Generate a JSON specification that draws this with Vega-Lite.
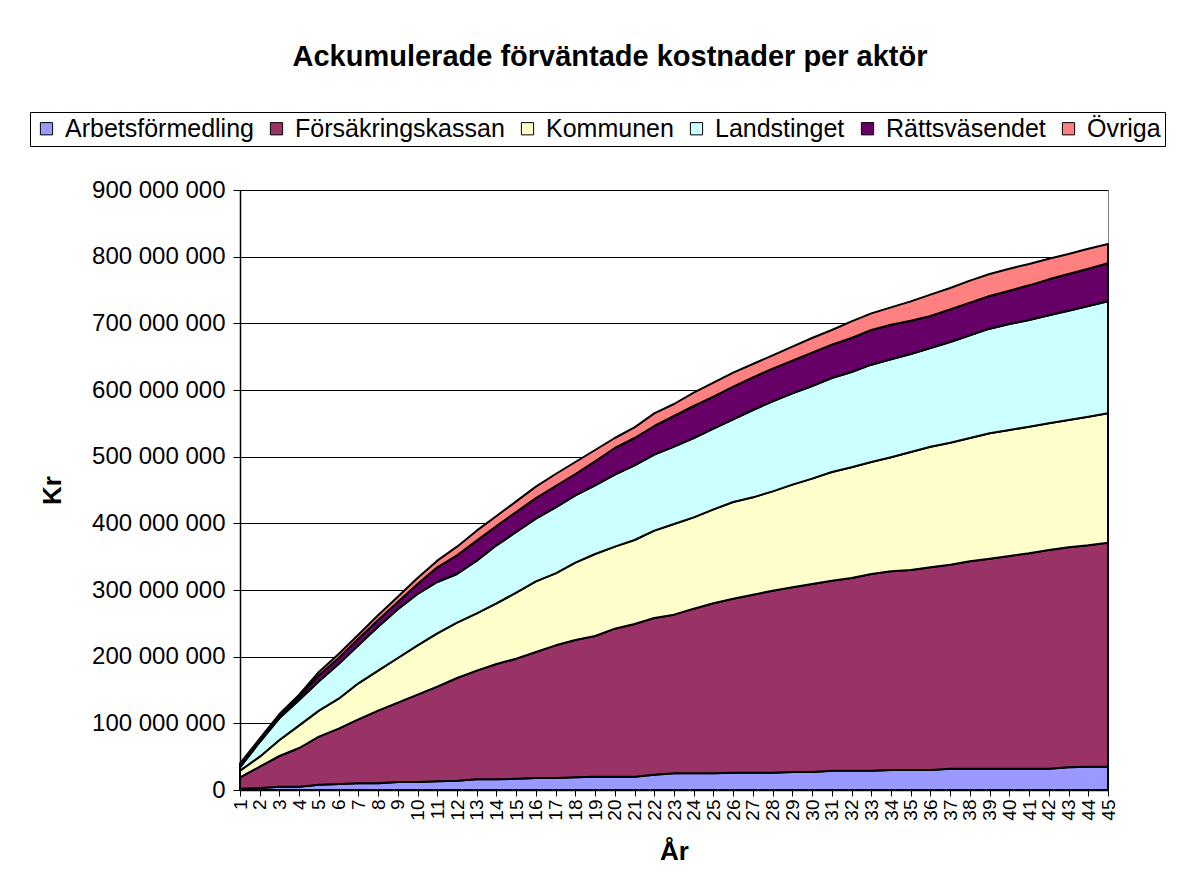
{
  "$schema": "https://vega.github.io/schema/vega-lite/v6.json",
  "width": 868,
  "height": 600,
  "autosize": {"type": "none"},
  "padding": {"left": 240, "top": 190, "right": 76, "bottom": 95},
  "background": "white",
  "title": {
    "text": "Ackumulerade förväntade kostnader per aktör",
    "font": "Liberation Sans",
    "fontSize": 29,
    "fontWeight": "bold",
    "color": "black",
    "anchor": "middle",
    "frame": "group",
    "dx": -64,
    "offset": 40
  },
  "data": {
    "values": [
      {"year":1,"aktor":"Arbetsförmedling","kr":2000000},{"year":1,"aktor":"Försäkringskassan","kr":17000000},{"year":1,"aktor":"Kommunen","kr":10000000},{"year":1,"aktor":"Landstinget","kr":5000000},{"year":1,"aktor":"Rättsväsendet","kr":3000000},{"year":1,"aktor":"Övriga","kr":3000000},
      {"year":2,"aktor":"Arbetsförmedling","kr":3000000},{"year":2,"aktor":"Försäkringskassan","kr":32000000},{"year":2,"aktor":"Kommunen","kr":15000000},{"year":2,"aktor":"Landstinget","kr":22000000},{"year":2,"aktor":"Rättsväsendet","kr":2000000},{"year":2,"aktor":"Övriga","kr":3000000},
      {"year":3,"aktor":"Arbetsförmedling","kr":5000000},{"year":3,"aktor":"Försäkringskassan","kr":46000000},{"year":3,"aktor":"Kommunen","kr":24000000},{"year":3,"aktor":"Landstinget","kr":33000000},{"year":3,"aktor":"Rättsväsendet","kr":3000000},{"year":3,"aktor":"Övriga","kr":3000000},
      {"year":4,"aktor":"Arbetsförmedling","kr":5000000},{"year":4,"aktor":"Försäkringskassan","kr":58000000},{"year":4,"aktor":"Kommunen","kr":34000000},{"year":4,"aktor":"Landstinget","kr":38000000},{"year":4,"aktor":"Rättsväsendet","kr":5000000},{"year":4,"aktor":"Övriga","kr":3000000},
      {"year":5,"aktor":"Arbetsförmedling","kr":8000000},{"year":5,"aktor":"Försäkringskassan","kr":72000000},{"year":5,"aktor":"Kommunen","kr":39000000},{"year":5,"aktor":"Landstinget","kr":44000000},{"year":5,"aktor":"Rättsväsendet","kr":9000000},{"year":5,"aktor":"Övriga","kr":5000000},
      {"year":6,"aktor":"Arbetsförmedling","kr":9000000},{"year":6,"aktor":"Försäkringskassan","kr":83000000},{"year":6,"aktor":"Kommunen","kr":45000000},{"year":6,"aktor":"Landstinget","kr":52000000},{"year":6,"aktor":"Rättsväsendet","kr":9000000},{"year":6,"aktor":"Övriga","kr":6000000},
      {"year":7,"aktor":"Arbetsförmedling","kr":10000000},{"year":7,"aktor":"Försäkringskassan","kr":96000000},{"year":7,"aktor":"Kommunen","kr":54000000},{"year":7,"aktor":"Landstinget","kr":57000000},{"year":7,"aktor":"Rättsväsendet","kr":10000000},{"year":7,"aktor":"Övriga","kr":6000000},
      {"year":8,"aktor":"Arbetsförmedling","kr":10000000},{"year":8,"aktor":"Försäkringskassan","kr":109000000},{"year":8,"aktor":"Kommunen","kr":60000000},{"year":8,"aktor":"Landstinget","kr":66000000},{"year":8,"aktor":"Rättsväsendet","kr":10000000},{"year":8,"aktor":"Övriga","kr":7000000},
      {"year":9,"aktor":"Arbetsförmedling","kr":12000000},{"year":9,"aktor":"Försäkringskassan","kr":119000000},{"year":9,"aktor":"Kommunen","kr":67000000},{"year":9,"aktor":"Landstinget","kr":73000000},{"year":9,"aktor":"Rättsväsendet","kr":11000000},{"year":9,"aktor":"Övriga","kr":8000000},
      {"year":10,"aktor":"Arbetsförmedling","kr":12000000},{"year":10,"aktor":"Försäkringskassan","kr":131000000},{"year":10,"aktor":"Kommunen","kr":74000000},{"year":10,"aktor":"Landstinget","kr":77000000},{"year":10,"aktor":"Rättsväsendet","kr":15000000},{"year":10,"aktor":"Övriga","kr":9000000},
      {"year":11,"aktor":"Arbetsförmedling","kr":13000000},{"year":11,"aktor":"Försäkringskassan","kr":142000000},{"year":11,"aktor":"Kommunen","kr":80000000},{"year":11,"aktor":"Landstinget","kr":77000000},{"year":11,"aktor":"Rättsväsendet","kr":22000000},{"year":11,"aktor":"Övriga","kr":10000000},
      {"year":12,"aktor":"Arbetsförmedling","kr":14000000},{"year":12,"aktor":"Försäkringskassan","kr":154000000},{"year":12,"aktor":"Kommunen","kr":83000000},{"year":12,"aktor":"Landstinget","kr":73000000},{"year":12,"aktor":"Rättsväsendet","kr":28000000},{"year":12,"aktor":"Övriga","kr":13000000},
      {"year":13,"aktor":"Arbetsförmedling","kr":16000000},{"year":13,"aktor":"Försäkringskassan","kr":163000000},{"year":13,"aktor":"Kommunen","kr":86000000},{"year":13,"aktor":"Landstinget","kr":79000000},{"year":13,"aktor":"Rättsväsendet","kr":30000000},{"year":13,"aktor":"Övriga","kr":15000000},
      {"year":14,"aktor":"Arbetsförmedling","kr":16000000},{"year":14,"aktor":"Försäkringskassan","kr":173000000},{"year":14,"aktor":"Kommunen","kr":91000000},{"year":14,"aktor":"Landstinget","kr":87000000},{"year":14,"aktor":"Rättsväsendet","kr":29000000},{"year":14,"aktor":"Övriga","kr":15000000},
      {"year":15,"aktor":"Arbetsförmedling","kr":17000000},{"year":15,"aktor":"Försäkringskassan","kr":180000000},{"year":15,"aktor":"Kommunen","kr":99000000},{"year":15,"aktor":"Landstinget","kr":91000000},{"year":15,"aktor":"Rättsväsendet","kr":30000000},{"year":15,"aktor":"Övriga","kr":16000000},
      {"year":16,"aktor":"Arbetsförmedling","kr":18000000},{"year":16,"aktor":"Försäkringskassan","kr":189000000},{"year":16,"aktor":"Kommunen","kr":106000000},{"year":16,"aktor":"Landstinget","kr":94000000},{"year":16,"aktor":"Rättsväsendet","kr":31000000},{"year":16,"aktor":"Övriga","kr":17000000},
      {"year":17,"aktor":"Arbetsförmedling","kr":18000000},{"year":17,"aktor":"Försäkringskassan","kr":199000000},{"year":17,"aktor":"Kommunen","kr":108000000},{"year":17,"aktor":"Landstinget","kr":99000000},{"year":17,"aktor":"Rättsväsendet","kr":32000000},{"year":17,"aktor":"Övriga","kr":18000000},
      {"year":18,"aktor":"Arbetsförmedling","kr":19000000},{"year":18,"aktor":"Försäkringskassan","kr":206000000},{"year":18,"aktor":"Kommunen","kr":116000000},{"year":18,"aktor":"Landstinget","kr":101000000},{"year":18,"aktor":"Rättsväsendet","kr":32000000},{"year":18,"aktor":"Övriga","kr":18000000},
      {"year":19,"aktor":"Arbetsförmedling","kr":20000000},{"year":19,"aktor":"Försäkringskassan","kr":211000000},{"year":19,"aktor":"Kommunen","kr":123000000},{"year":19,"aktor":"Landstinget","kr":103000000},{"year":19,"aktor":"Rättsväsendet","kr":36000000},{"year":19,"aktor":"Övriga","kr":17000000},
      {"year":20,"aktor":"Arbetsförmedling","kr":20000000},{"year":20,"aktor":"Försäkringskassan","kr":222000000},{"year":20,"aktor":"Kommunen","kr":123000000},{"year":20,"aktor":"Landstinget","kr":108000000},{"year":20,"aktor":"Rättsväsendet","kr":40000000},{"year":20,"aktor":"Övriga","kr":15000000},
      {"year":21,"aktor":"Arbetsförmedling","kr":20000000},{"year":21,"aktor":"Försäkringskassan","kr":229000000},{"year":21,"aktor":"Kommunen","kr":126000000},{"year":21,"aktor":"Landstinget","kr":112000000},{"year":21,"aktor":"Rättsväsendet","kr":41000000},{"year":21,"aktor":"Övriga","kr":16000000},
      {"year":22,"aktor":"Arbetsförmedling","kr":23000000},{"year":22,"aktor":"Försäkringskassan","kr":235000000},{"year":22,"aktor":"Kommunen","kr":131000000},{"year":22,"aktor":"Landstinget","kr":114000000},{"year":22,"aktor":"Rättsväsendet","kr":43000000},{"year":22,"aktor":"Övriga","kr":19000000},
      {"year":23,"aktor":"Arbetsförmedling","kr":25000000},{"year":23,"aktor":"Försäkringskassan","kr":238000000},{"year":23,"aktor":"Kommunen","kr":136000000},{"year":23,"aktor":"Landstinget","kr":116000000},{"year":23,"aktor":"Rättsväsendet","kr":46000000},{"year":23,"aktor":"Övriga","kr":18000000},
      {"year":24,"aktor":"Arbetsförmedling","kr":25000000},{"year":24,"aktor":"Försäkringskassan","kr":247000000},{"year":24,"aktor":"Kommunen","kr":137000000},{"year":24,"aktor":"Landstinget","kr":119000000},{"year":24,"aktor":"Rättsväsendet","kr":48000000},{"year":24,"aktor":"Övriga","kr":20000000},
      {"year":25,"aktor":"Arbetsförmedling","kr":25000000},{"year":25,"aktor":"Försäkringskassan","kr":255000000},{"year":25,"aktor":"Kommunen","kr":141000000},{"year":25,"aktor":"Landstinget","kr":121000000},{"year":25,"aktor":"Rättsväsendet","kr":48000000},{"year":25,"aktor":"Övriga","kr":21000000},
      {"year":26,"aktor":"Arbetsförmedling","kr":26000000},{"year":26,"aktor":"Försäkringskassan","kr":261000000},{"year":26,"aktor":"Kommunen","kr":145000000},{"year":26,"aktor":"Landstinget","kr":124000000},{"year":26,"aktor":"Rättsväsendet","kr":49000000},{"year":26,"aktor":"Övriga","kr":21000000},
      {"year":27,"aktor":"Arbetsförmedling","kr":26000000},{"year":27,"aktor":"Försäkringskassan","kr":267000000},{"year":27,"aktor":"Kommunen","kr":146000000},{"year":27,"aktor":"Landstinget","kr":131000000},{"year":27,"aktor":"Rättsväsendet","kr":49000000},{"year":27,"aktor":"Övriga","kr":20000000},
      {"year":28,"aktor":"Arbetsförmedling","kr":26000000},{"year":28,"aktor":"Försäkringskassan","kr":273000000},{"year":28,"aktor":"Kommunen","kr":149000000},{"year":28,"aktor":"Landstinget","kr":135000000},{"year":28,"aktor":"Rättsväsendet","kr":49000000},{"year":28,"aktor":"Övriga","kr":20000000},
      {"year":29,"aktor":"Arbetsförmedling","kr":27000000},{"year":29,"aktor":"Försäkringskassan","kr":277000000},{"year":29,"aktor":"Kommunen","kr":154000000},{"year":29,"aktor":"Landstinget","kr":137000000},{"year":29,"aktor":"Rättsväsendet","kr":49000000},{"year":29,"aktor":"Övriga","kr":21000000},
      {"year":30,"aktor":"Arbetsförmedling","kr":27000000},{"year":30,"aktor":"Försäkringskassan","kr":282000000},{"year":30,"aktor":"Kommunen","kr":158000000},{"year":30,"aktor":"Landstinget","kr":139000000},{"year":30,"aktor":"Rättsväsendet","kr":50000000},{"year":30,"aktor":"Övriga","kr":22000000},
      {"year":31,"aktor":"Arbetsförmedling","kr":29000000},{"year":31,"aktor":"Försäkringskassan","kr":285000000},{"year":31,"aktor":"Kommunen","kr":163000000},{"year":31,"aktor":"Landstinget","kr":141000000},{"year":31,"aktor":"Rättsväsendet","kr":50000000},{"year":31,"aktor":"Övriga","kr":22000000},
      {"year":32,"aktor":"Arbetsförmedling","kr":29000000},{"year":32,"aktor":"Försäkringskassan","kr":289000000},{"year":32,"aktor":"Kommunen","kr":166000000},{"year":32,"aktor":"Landstinget","kr":143000000},{"year":32,"aktor":"Rättsväsendet","kr":51000000},{"year":32,"aktor":"Övriga","kr":25000000},
      {"year":33,"aktor":"Arbetsförmedling","kr":29000000},{"year":33,"aktor":"Försäkringskassan","kr":295000000},{"year":33,"aktor":"Kommunen","kr":168000000},{"year":33,"aktor":"Landstinget","kr":146000000},{"year":33,"aktor":"Rättsväsendet","kr":52000000},{"year":33,"aktor":"Övriga","kr":25000000},
      {"year":34,"aktor":"Arbetsförmedling","kr":30000000},{"year":34,"aktor":"Försäkringskassan","kr":298000000},{"year":34,"aktor":"Kommunen","kr":171000000},{"year":34,"aktor":"Landstinget","kr":147000000},{"year":34,"aktor":"Rättsväsendet","kr":52000000},{"year":34,"aktor":"Övriga","kr":26000000},
      {"year":35,"aktor":"Arbetsförmedling","kr":30000000},{"year":35,"aktor":"Försäkringskassan","kr":300000000},{"year":35,"aktor":"Kommunen","kr":177000000},{"year":35,"aktor":"Landstinget","kr":147000000},{"year":35,"aktor":"Rättsväsendet","kr":50000000},{"year":35,"aktor":"Övriga","kr":29000000},
      {"year":36,"aktor":"Arbetsförmedling","kr":30000000},{"year":36,"aktor":"Försäkringskassan","kr":304000000},{"year":36,"aktor":"Kommunen","kr":181000000},{"year":36,"aktor":"Landstinget","kr":148000000},{"year":36,"aktor":"Rättsväsendet","kr":48000000},{"year":36,"aktor":"Övriga","kr":32000000},
      {"year":37,"aktor":"Arbetsförmedling","kr":32000000},{"year":37,"aktor":"Försäkringskassan","kr":306000000},{"year":37,"aktor":"Kommunen","kr":183000000},{"year":37,"aktor":"Landstinget","kr":151000000},{"year":37,"aktor":"Rättsväsendet","kr":49000000},{"year":37,"aktor":"Övriga","kr":32000000},
      {"year":38,"aktor":"Arbetsförmedling","kr":32000000},{"year":38,"aktor":"Försäkringskassan","kr":311000000},{"year":38,"aktor":"Kommunen","kr":185000000},{"year":38,"aktor":"Landstinget","kr":154000000},{"year":38,"aktor":"Rättsväsendet","kr":49000000},{"year":38,"aktor":"Övriga","kr":33000000},
      {"year":39,"aktor":"Arbetsförmedling","kr":32000000},{"year":39,"aktor":"Försäkringskassan","kr":315000000},{"year":39,"aktor":"Kommunen","kr":188000000},{"year":39,"aktor":"Landstinget","kr":157000000},{"year":39,"aktor":"Rättsväsendet","kr":49000000},{"year":39,"aktor":"Övriga","kr":33000000},
      {"year":40,"aktor":"Arbetsförmedling","kr":32000000},{"year":40,"aktor":"Försäkringskassan","kr":319000000},{"year":40,"aktor":"Kommunen","kr":189000000},{"year":40,"aktor":"Landstinget","kr":159000000},{"year":40,"aktor":"Rättsväsendet","kr":50000000},{"year":40,"aktor":"Övriga","kr":33000000},
      {"year":41,"aktor":"Arbetsförmedling","kr":32000000},{"year":41,"aktor":"Försäkringskassan","kr":323000000},{"year":41,"aktor":"Kommunen","kr":190000000},{"year":41,"aktor":"Landstinget","kr":160000000},{"year":41,"aktor":"Rättsväsendet","kr":52000000},{"year":41,"aktor":"Övriga","kr":32000000},
      {"year":42,"aktor":"Arbetsförmedling","kr":32000000},{"year":42,"aktor":"Försäkringskassan","kr":328000000},{"year":42,"aktor":"Kommunen","kr":190000000},{"year":42,"aktor":"Landstinget","kr":162000000},{"year":42,"aktor":"Rättsväsendet","kr":54000000},{"year":42,"aktor":"Övriga","kr":31000000},
      {"year":43,"aktor":"Arbetsförmedling","kr":34000000},{"year":43,"aktor":"Försäkringskassan","kr":330000000},{"year":43,"aktor":"Kommunen","kr":191000000},{"year":43,"aktor":"Landstinget","kr":164000000},{"year":43,"aktor":"Rättsväsendet","kr":55000000},{"year":43,"aktor":"Övriga","kr":30000000},
      {"year":44,"aktor":"Arbetsförmedling","kr":35000000},{"year":44,"aktor":"Försäkringskassan","kr":332000000},{"year":44,"aktor":"Kommunen","kr":193000000},{"year":44,"aktor":"Landstinget","kr":166000000},{"year":44,"aktor":"Rättsväsendet","kr":56000000},{"year":44,"aktor":"Övriga","kr":30000000},
      {"year":45,"aktor":"Arbetsförmedling","kr":35000000},{"year":45,"aktor":"Försäkringskassan","kr":336000000},{"year":45,"aktor":"Kommunen","kr":194000000},{"year":45,"aktor":"Landstinget","kr":168000000},{"year":45,"aktor":"Rättsväsendet","kr":57000000},{"year":45,"aktor":"Övriga","kr":29000000}
    ]
  },
  "mark": {"type": "area", "stroke": "black", "strokeWidth": 2, "strokeJoin": "round", "interpolate": "linear"},
  "encoding": {
    "x": {
      "field": "year",
      "type": "ordinal",
      "scale": {"type": "point", "padding": 0},
      "axis": {
        "title": "År",
        "titleFontSize": 26,
        "titleFontWeight": "bold",
        "titleColor": "black",
        "titlePadding": 18,
        "labelAngle": -90,
        "labelFontSize": 19,
        "labelColor": "black",
        "labelPadding": 3,
        "tickSize": 6,
        "tickColor": "black",
        "domainColor": "black",
        "domainWidth": 1.5,
        "grid": false
      }
    },
    "y": {
      "field": "kr",
      "type": "quantitative",
      "stack": "zero",
      "scale": {"domain": [0, 900000000], "nice": false},
      "axis": {
        "title": "Kr",
        "titleFontSize": 26,
        "titleFontWeight": "bold",
        "titleColor": "black",
        "titlePadding": 26,
        "values": [0, 100000000, 200000000, 300000000, 400000000, 500000000, 600000000, 700000000, 800000000, 900000000],
        "labelExpr": "replace(format(datum.value, ',d'), regexp(',', 'g'), ' ')",
        "labelFontSize": 24,
        "labelColor": "black",
        "labelPadding": 8,
        "tickSize": 7,
        "tickColor": "black",
        "domainColor": "black",
        "domainWidth": 1.5,
        "grid": true,
        "gridColor": "black",
        "gridWidth": 1
      }
    },
    "order": {"field": "aktor", "type": "nominal", "sort": "ascending"},
    "color": {
      "field": "aktor",
      "type": "nominal",
      "scale": {
        "domain": ["Arbetsförmedling", "Försäkringskassan", "Kommunen", "Landstinget", "Rättsväsendet", "Övriga"],
        "range": ["#9999FF", "#993366", "#FFFFCC", "#CCFFFF", "#660066", "#FF8080"]
      },
      "legend": {
        "title": null,
        "orient": "none",
        "legendX": -210,
        "legendY": -78,
        "direction": "horizontal",
        "strokeColor": "black",
        "fillColor": "white",
        "padding": 4,
        "symbolType": "square",
        "symbolSize": 150,
        "symbolStrokeColor": "black",
        "symbolStrokeWidth": 1,
        "symbolOpacity": 1,
        "labelFontSize": 25,
        "labelLimit": 0,
        "labelColor": "black",
        "labelOffset": 6,
        "columnPadding": 10
      }
    }
  },
  "config": {
    "font": "Liberation Sans",
    "view": {"stroke": "#808080", "strokeWidth": 1}
  }
}
